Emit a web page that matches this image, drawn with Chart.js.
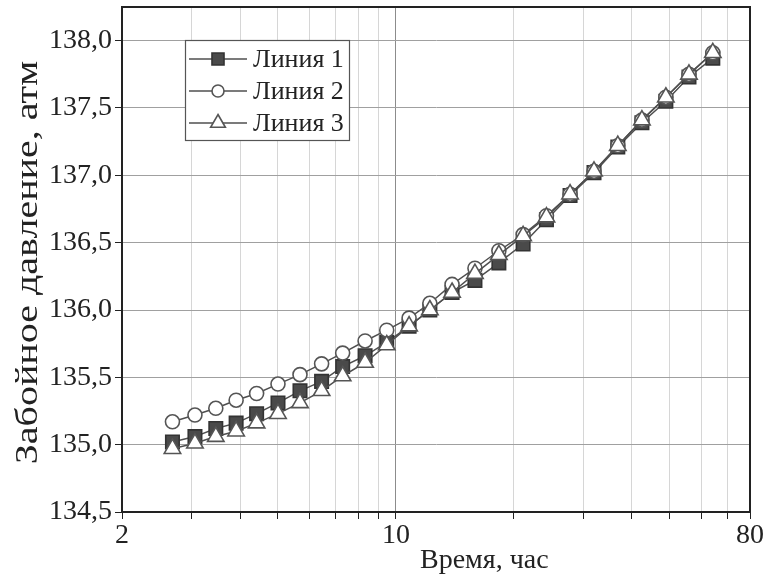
<!DOCTYPE html>
<html lang="ru">
<head>
<meta charset="utf-8">
<title>Забойное давление</title>
<script src="https://cdn.jsdelivr.net/npm/chart.js@4.4.1/dist/chart.umd.min.js"></script>
<style>
    html, body { margin: 0; padding: 0; background: #fff; }
    #wrap { width: 763px; height: 583px; }
</style>
</head>
<body>
<div id="wrap"><canvas id="mainChart" width="763" height="583"></canvas></div>
<script>
// данные
const timeHours = [2.69, 3.07, 3.47, 3.91, 4.41, 5.00, 5.69, 6.46, 7.31, 8.34, 9.47, 10.8, 12.2,
    13.9, 15.9, 18.3, 21.1, 24.2, 27.8, 32.0, 36.8, 42.4, 48.8, 55.9, 64.3];
const line1 = [135.02, 135.06, 135.12, 135.16, 135.23, 135.31, 135.40, 135.47, 135.58, 135.66,
    135.76, 135.88, 136.00, 136.13, 136.22, 136.35, 136.49, 136.67, 136.85, 137.02, 137.21,
    137.39, 137.55, 137.73, 137.87];
const line2 = [135.17, 135.22, 135.27, 135.33, 135.38, 135.45, 135.52, 135.60, 135.68, 135.77,
    135.85, 135.94, 136.05, 136.19, 136.31, 136.44, 136.56, 136.70, 136.86, 137.03, 137.22,
    137.41, 137.58, 137.75, 137.91];
const line3 = [134.97, 135.01, 135.06, 135.10, 135.16, 135.23, 135.31, 135.40, 135.51, 135.61,
    135.74, 135.88, 136.00, 136.13, 136.27, 136.41, 136.55, 136.69, 136.86, 137.03, 137.22,
    137.41, 137.58, 137.75, 137.91];
const seriesNames = ['Линия 1', 'Линия 2', 'Линия 3'];
const xTicks = [2, 3, 4, 5, 6, 7, 8, 9, 10, 20, 30, 40, 50, 60, 70, 80];
const xLabeled = [2, 10, 80];
const xTitle = 'Время, час';
const yTitle = 'Забойное давление, атм';

const FONT = '"Liberation Serif", "Times New Roman", serif';
const INK = '#222';
const LINE = '#4f4f4f';

const toPoints = ys => ys.map((y, i) => ({ x: timeHours[i], y: y }));
const isHalf = v => Math.abs(v * 2 - Math.round(v * 2)) < 1e-6;

const styles = [
    { pointStyle: 'rect', pointRadius: 9.5, bg: '#4a4a4a', border: '#333' },
    { pointStyle: 'circle', pointRadius: 7, bg: '#fff', border: '#555' },
    { pointStyle: 'triangle', pointRadius: 9.5, bg: '#fff', border: '#555' }
];

const datasets = [line1, line2, line3].map((ys, i) => ({
    label: seriesNames[i],
    data: toPoints(ys),
    borderColor: LINE,
    borderWidth: 1.5,
    pointStyle: styles[i].pointStyle,
    pointRadius: styles[i].pointRadius,
    pointBackgroundColor: styles[i].bg,
    pointBorderColor: styles[i].border,
    pointBorderWidth: 1.6,
    fill: false,
    tension: 0,
    order: 3 - i
}));

// рамка сверху/справа, легенда внутри поля и подписи осей
const extras = {
    id: 'extras',
    afterDraw(chart) {
        const { ctx, chartArea: a } = chart;
        ctx.save();
        ctx.strokeStyle = INK;
        ctx.lineWidth = 2;
        ctx.beginPath();
        ctx.moveTo(a.left, a.top);
        ctx.lineTo(a.right, a.top);
        ctx.lineTo(a.right, a.bottom);
        ctx.stroke();

        // легенда
        const box = { x: 185, y: 40, w: 164, h: 100 };
        ctx.fillStyle = '#fff';
        ctx.fillRect(box.x, box.y, box.w, box.h);
        ctx.strokeStyle = '#555';
        ctx.lineWidth = 1.2;
        ctx.strokeRect(box.x + 0.5, box.y + 0.5, box.w, box.h);
        ctx.font = '26px ' + FONT;
        ctx.textBaseline = 'middle';
        ctx.textAlign = 'left';
        chart.data.datasets.forEach((ds, i) => {
            const ry = box.y + 19 + i * 32;
            ctx.strokeStyle = LINE;
            ctx.lineWidth = 1.5;
            ctx.beginPath();
            ctx.moveTo(box.x + 4, ry);
            ctx.lineTo(box.x + 62, ry);
            ctx.stroke();
            ctx.fillStyle = ds.pointBackgroundColor;
            ctx.strokeStyle = ds.pointBorderColor;
            ctx.lineWidth = ds.pointBorderWidth;
            Chart.helpers.drawPoint(ctx, {
                pointStyle: ds.pointStyle, radius: ds.pointRadius - 1, rotation: 0, borderWidth: ds.pointBorderWidth
            }, box.x + 33, ry);
            ctx.fillStyle = INK;
            ctx.fillText(ds.label, box.x + 68, ry + 1);
        });

        // подпись оси X
        ctx.font = '28px ' + FONT;
        ctx.fillStyle = INK;
        ctx.textBaseline = 'alphabetic';
        ctx.fillText(xTitle, 420, 568);

        // подпись оси Y (в оригинале шрифт вытянут вдоль оси)
        ctx.translate(29, (a.top + a.bottom) / 2 + 3);
        ctx.rotate(-Math.PI / 2);
        ctx.scale(1.25, 1);
        ctx.font = '32px ' + FONT;
        ctx.textAlign = 'center';
        ctx.textBaseline = 'middle';
        ctx.fillText(yTitle, 0, 0);
        ctx.restore();
    }
};

new Chart(document.getElementById('mainChart').getContext('2d'), {
    type: 'line',
    data: { datasets: datasets },
    options: {
        responsive: false,
        animation: false,
        devicePixelRatio: 1,
        layout: { autoPadding: false, padding: { top: 7, right: 13, left: 0, bottom: 0 } },
        plugins: { legend: { display: false }, tooltip: { enabled: false } },
        scales: {
            x: {
                type: 'logarithmic',
                min: 2,
                max: 80,
                afterBuildTicks: s => { s.ticks = xTicks.map(v => ({ value: v })); },
                afterFit: s => { s.height = 71; s.paddingLeft = 0; s.paddingRight = 0; },
                ticks: {
                    autoSkip: false,
                    maxRotation: 0,
                    padding: 0,
                    color: INK,
                    font: { family: FONT, size: 28 },
                    callback: v => xLabeled.includes(v) ? String(v) : ''
                },
                grid: {
                    color: c => (c.tick && c.tick.value === 10) ? '#8c8c8c' : '#d6d6d6',
                    lineWidth: 1,
                    tickColor: INK,
                    tickLength: 7
                },
                border: { color: INK, width: 2 }
            },
            y: {
                min: 134.5,
                max: 138.25,
                afterFit: s => { s.width = 122; s.paddingTop = 0; s.paddingBottom = 0; },
                ticks: {
                    stepSize: 0.25,
                    padding: 3,
                    color: INK,
                    font: { family: FONT, size: 28 },
                    callback: v => isHalf(v) ? v.toFixed(1).replace('.', ',') : ''
                },
                grid: {
                    color: c => (c.tick && isHalf(c.tick.value)) ? '#a0a0a0' : '#d6d6d6',
                    lineWidth: 1,
                    tickColor: INK,
                    tickLength: 7
                },
                border: { color: INK, width: 2 }
            }
        }
    },
    plugins: [extras]
});
</script>
</body>
</html>
